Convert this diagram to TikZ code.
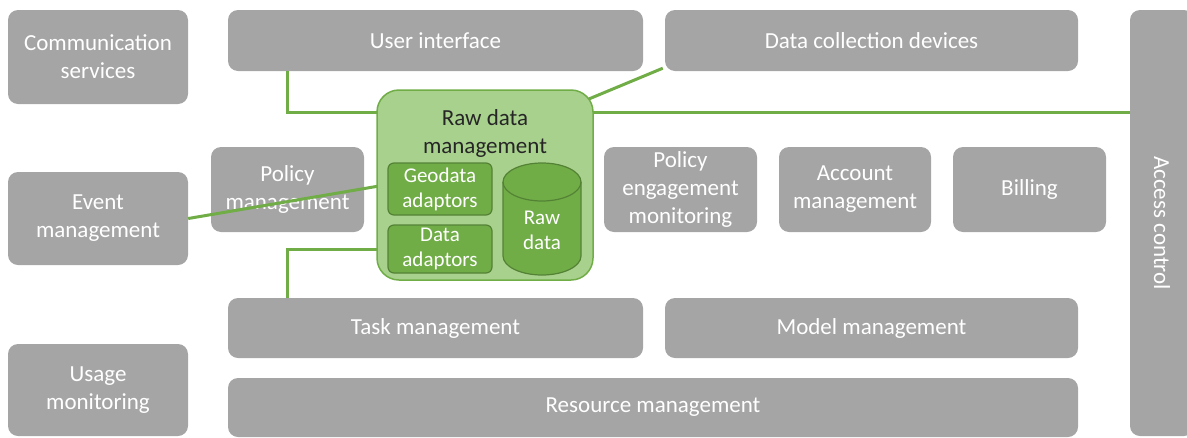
\documentclass[tikz,border=0pt]{standalone}
\usepackage{fontspec}
\setmainfont{Carlito}
\definecolor{boxgray}{HTML}{A5A5A5}
\definecolor{linegreen}{HTML}{70AD47}
\definecolor{lightgreen}{HTML}{A9D18E}
\definecolor{darkgreen}{HTML}{548235}

\begin{document}
\begin{tikzpicture}[x=1pt,y=-1pt,
    block/.style={fill=boxgray,rounded corners=10pt,text=white,align=center,inner sep=0pt,font=\fontsize{23}{28}\selectfont},
    adaptor/.style={fill=linegreen,draw=darkgreen,line width=1.2pt,rounded corners=6pt,text=white,align=center,inner sep=0pt,font=\fontsize{21}{25}\selectfont},
    link/.style={linegreen,line width=3pt}]
    \useasboundingbox (0,0) rectangle (1187,437);

    % left column
    \node[block,minimum width=180pt,minimum height=94pt] (comm) at (98,57) {Communication\\services};
    \node[block,minimum width=180pt,minimum height=93pt] (event) at (98,218.5) {Event\\management};
    \node[block,minimum width=180pt,minimum height=92pt] (usage) at (98,390) {Usage\\monitoring};

    % top and bottom rows
    \node[block,minimum width=415pt,minimum height=61pt] (ui) at (435.5,40.5) {User interface};
    \node[block,minimum width=413pt,minimum height=61pt] (dcd) at (871.5,40.5) {Data collection devices};
    \node[block,minimum width=415pt,minimum height=60pt] (task) at (435.5,328) {Task management};
    \node[block,minimum width=413pt,minimum height=60pt] (model) at (871.5,328) {Model management};
    \node[block,minimum width=850pt,minimum height=59pt] (res) at (653,407.5) {Resource management};

    % middle row
    \node[block,minimum width=153pt,minimum height=85pt] (pol) at (287.5,189.5) {Policy\\management};
    \node[block,minimum width=153pt,minimum height=85pt] (peng) at (680.5,189.5) {Policy\\engagement\\monitoring};
    \node[block,minimum width=152pt,minimum height=85pt] (acct) at (855,189.5) {Account\\management};
    \node[block,minimum width=153pt,minimum height=85pt] (bill) at (1029.5,189.5) {Billing};

    % access control, cut by the right edge
    \node[block,minimum width=64pt,minimum height=426pt] (acc) at (1162,223) {};
    \node[rotate=-90,text=white,font=\fontsize{23}{28}\selectfont] (acclabel) at (acc.center) {Access control};

    % green links
    \draw[link] (ui.south -| pol.north) |- (385,112);
    \draw[link] ([shift={(-2,-3)}]dcd.south west) -- (584,101);
    \draw[link] (585,112) -- (acc.west |- 0,112);
    \draw[link] (event.east) -- (385,185);
    \draw[link] (task.north -| pol.south) |- (385,249);

    % raw data management
    \node[fill=lightgreen,draw=linegreen,line width=1.5pt,rounded corners=22pt,minimum width=216pt,minimum height=190pt,
      label={[anchor=north,yshift=-20pt,inner sep=0pt,align=center,text=black!85,font=\fontsize{23}{28}\selectfont]north:Raw data\\management}] (rdm) at (485,185) {};
    \node[adaptor,minimum width=104pt,minimum height=52pt] (geo) at (440,189) {Geodata\\adaptors};
    \node[adaptor,minimum width=104pt,minimum height=48pt] (dad) at (440,249) {Data\\adaptors};

    % the raw data store
    \draw[fill=linegreen,draw=darkgreen,line width=1.2pt] (503,182) -- (503,256) arc (180:360:39pt and 19pt)
      -- (581,182) arc (0:180:39pt and 19pt) -- cycle;
    \draw[darkgreen,line width=1.2pt] (503,182) arc (180:360:39pt and 19pt);
    \node[text=white,align=center,inner sep=0pt,font=\fontsize{21}{25}\selectfont] (raw) at (542,230) {Raw\\data};
  \end{tikzpicture}
\end{document}
